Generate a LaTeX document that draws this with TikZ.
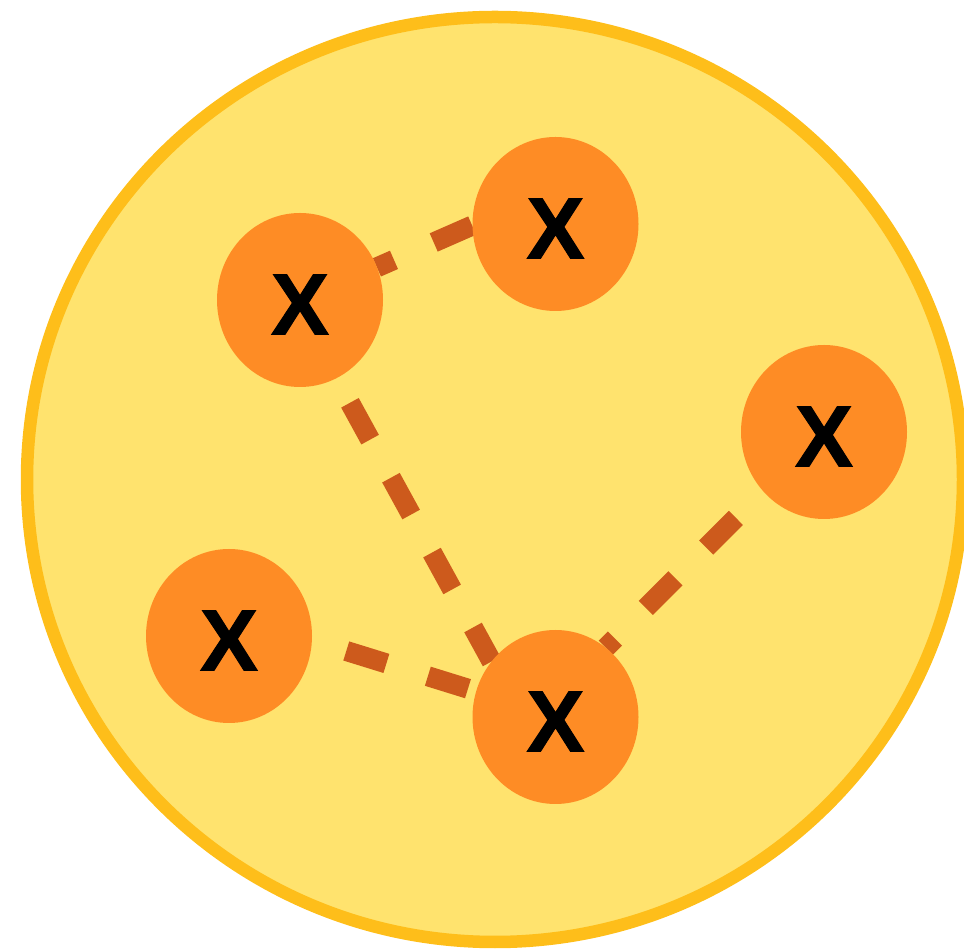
\documentclass[tikz,border=0pt]{standalone}
\usepackage{fontspec}
\setmainfont{Liberation Sans}
\newfontfamily\xfont[FakeBold=1.2]{Liberation Sans}
\usetikzlibrary{shapes.geometric}
\pgfdeclarelayer{back}
\pgfdeclarelayer{mid}
\pgfsetlayers{back,mid,main}
\definecolor{fieldfill}{RGB}{255,227,110}
\definecolor{fieldedge}{RGB}{254,190,26}
\definecolor{ballfill}{RGB}{254,140,37}
\definecolor{linkcol}{RGB}{205,90,28}
\begin{document}
\begin{tikzpicture}[x=1pt,y=1pt,
  field/.style={ellipse, draw=fieldedge, fill=fieldfill, line width=12.5pt,
    minimum width=936pt, minimum height=925pt, inner sep=0pt},
  ball/.style={ellipse, fill=ballfill, minimum width=166pt, minimum height=174pt,
    inner sep=0pt, outer sep=0pt},
  xlab/.style={inner sep=0pt, font=\xfont\bfseries\fontsize{87}{87}\selectfont},
  link/.style={draw=linkcol, line width=20pt}
]
\useasboundingbox (0,0) rectangle (964,948);
\begin{pgfonlayer}{back}
  \node[field] (F) at (495,468.5) {};
\end{pgfonlayer}
\node[ball] (A) at (300,648) {};
\node[ball] (B) at (555.5,724) {};
\node[ball] (C) at (824,516) {};
\node[ball] (D) at (229,312) {};
\node[ball] (E) at (555.5,231) {};
\node[xlab] (Ax) at ([yshift=-4.5pt]A.center) {X};
\node[xlab] (Bx) at ([yshift=-4.5pt]B.center) {X};
\node[xlab] (Cx) at ([yshift=-4.5pt]C.center) {X};
\node[xlab] (Dx) at ([yshift=-4.5pt]D.center) {X};
\node[xlab] (Ex) at ([yshift=-4.5pt]E.center) {X};
\begin{pgfonlayer}{mid}
  \draw[link, dash pattern=on 42pt off 43.4pt, dash phase=23.4pt] (A.23.5) -- (B.181);
  \draw[link, dash pattern=on 42pt off 43.4pt, dash phase=57.3pt] (A.-65.4) -- (E.139.4);
  \draw[link, dash pattern=on 42pt off 43.4pt, dash phase=49.4pt] (D.-3) -- (E.162.5);
  \draw[link, dash pattern=on 42pt off 43.4pt, dash phase=47.2pt] (C.224.5) -- (E.54.6);
\end{pgfonlayer}
\end{tikzpicture}
\end{document}
